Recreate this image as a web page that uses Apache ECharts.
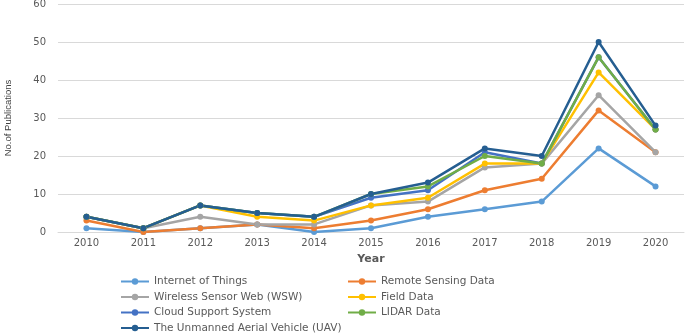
<!DOCTYPE html>
<html>
<head>
<meta charset="utf-8">
<script src="https://cdn.jsdelivr.net/npm/echarts@6/dist/echarts.min.js"></script>
<style>
  html, body { margin: 0; padding: 0; background: #fff; }
  #chart { width: 685px; height: 334px; }
</style>
</head>
<body>
<div id="chart"></div>
<script>
var years = ['2010', '2011', '2012', '2013', '2014', '2015', '2016', '2017', '2018', '2019', '2020'];

var internetOfThings = [1, 0, 1, 2, 0, 1, 4, 6, 8, 22, 12];
var remoteSensing    = [3, 0, 1, 2, 1, 3, 6, 11, 14, 32, 21];
var wirelessSensor   = [4, 1, 4, 2, 2, 7, 8, 17, 18, 36, 21];
var fieldData        = [4, 1, 7, 4, 3, 7, 9, 18, 18, 42, 27];
var cloudSupport     = [4, 1, 7, 5, 4, 9, 11, 21, 18, 46, 27];
var lidarData        = [4, 1, 7, 5, 4, 10, 12, 20, 18, 46, 27];
var uavData          = [4, 1, 7, 5, 4, 10, 13, 22, 20, 50, 28];

var seriesNames = [
  'Internet of Things',
  'Remote Sensing Data',
  'Wireless Sensor Web (WSW)',
  'Field Data',
  'Cloud Support System',
  'LIDAR Data',
  'The Unmanned Aerial Vehicle (UAV)'
];
var seriesData = [internetOfThings, remoteSensing, wirelessSensor, fieldData, cloudSupport, lidarData, uavData];
var colors = ['#5B9BD5', '#ED7D31', '#A5A5A5', '#FFC000', '#4472C4', '#70AD47', '#255E91'];

var myChart = echarts.init(document.getElementById('chart'));

var legendText = { color: '#595959', fontFamily: 'DejaVu Sans', fontSize: 10.5 };

myChart.setOption({
  animation: false,
  color: colors,
  grid: { left: 58, right: 1, top: 4, bottom: 102, outerBoundsMode: 'none' },
  legend: [
    {
      orient: 'vertical',
      left: 120, top: 276, height: 80, padding: 0,
      itemWidth: 28, itemHeight: 8, itemGap: 4.5,
      data: [seriesNames[0], seriesNames[2], seriesNames[4], seriesNames[6]],
      textStyle: legendText
    },
    {
      orient: 'vertical',
      left: 347, top: 276, height: 80, padding: 0,
      itemWidth: 28, itemHeight: 8, itemGap: 4.5,
      data: [seriesNames[1], seriesNames[3], seriesNames[5]],
      textStyle: legendText
    }
  ],
  xAxis: {
    type: 'category',
    data: years,
    boundaryGap: true,
    name: 'Year',
    nameLocation: 'middle',
    nameGap: 22,
    nameTextStyle: { color: '#595959', fontFamily: 'DejaVu Sans', fontSize: 11, fontWeight: 'bold' },
    axisLine: { lineStyle: { color: '#d9d9d9' } },
    axisTick: { show: false },
    axisLabel: { color: '#595959', fontFamily: 'DejaVu Sans', fontSize: 10, margin: 6 }
  },
  yAxis: {
    type: 'value',
    min: 0, max: 60, interval: 10,
    name: 'No.of Publications',
    nameLocation: 'middle',
    nameGap: 45,
    nameTextStyle: { color: '#404040', fontFamily: 'Liberation Sans', fontSize: 9.5 },
    axisLine: { show: false },
    axisTick: { show: false },
    axisLabel: { color: '#595959', fontFamily: 'DejaVu Sans', fontSize: 10, margin: 12 },
    splitLine: { lineStyle: { color: '#d9d9d9' } }
  },
  series: seriesNames.map(function (name, i) {
    return {
      name: name,
      type: 'line',
      data: seriesData[i],
      symbol: 'circle',
      symbolSize: 6,
      lineStyle: { width: 2.5 },
      itemStyle: { color: colors[i] }
    };
  })
});
</script>
</body>
</html>
